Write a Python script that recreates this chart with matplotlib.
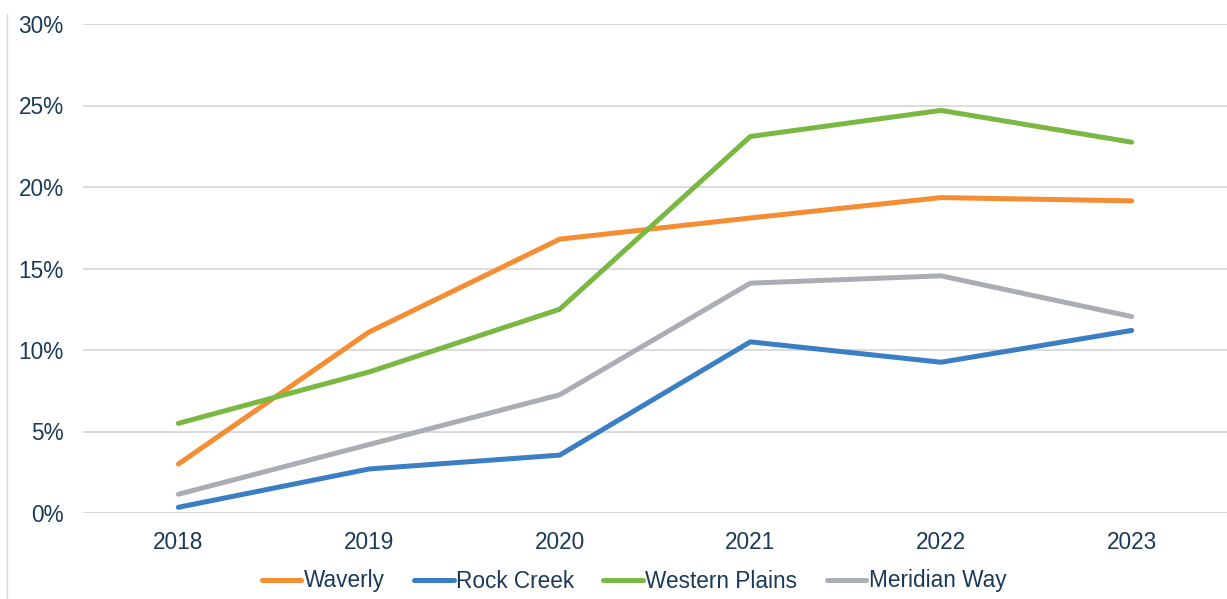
import matplotlib
matplotlib.use("Agg")
import matplotlib.pyplot as plt
from matplotlib.lines import Line2D

years = ["2018", "2019", "2020", "2021", "2022", "2023"]
waverly = [3.0, 11.1, 16.8, 18.1, 19.35, 19.15]
rock_creek = [0.35, 2.7, 3.55, 10.5, 9.25, 11.2]
western_plains = [5.5, 8.65, 12.5, 23.1, 24.7, 22.75]
meridian_way = [1.15, 4.2, 7.25, 14.1, 14.55, 12.05]
y_ticks = [0, 5, 10, 15, 20, 25, 30]

series = [
    ("Waverly", waverly, "#F58D32"),
    ("Rock Creek", rock_creek, "#3A7EC4"),
    ("Western Plains", western_plains, "#7BB843"),
    ("Meridian Way", meridian_way, "#ABADB4"),
]

txt = "#1B3A5A"
plt.rcParams['font.family'] = ['Liberation Sans', 'DejaVu Sans']

fig = plt.figure(figsize=(12.27, 5.99), dpi=100)
ax = fig.add_axes([83/1227, 1-513/599, 1-83/1227, (513-24)/599])

x = list(range(len(years)))
for name, vals, col in series:
    ax.plot(x, vals, color=col, lw=3.6, solid_capstyle='round', solid_joinstyle='round', label=name)

ax.set_xlim(-0.5, len(years)-0.5)
ax.set_ylim(0, 30)
ax.set_yticks(y_ticks)
ax.set_yticklabels([f"{v}%" for v in y_ticks])
ax.set_xticks(x)
ax.set_xticklabels(years)
ax.grid(axis='y', color='#D9D9D9', lw=1.3)
ax.set_axisbelow(True)
for s in ax.spines.values():
    s.set_visible(False)
ax.tick_params(axis='both', length=0, labelsize=16.3, colors=txt)
ax.tick_params(axis='y', pad=14)
ax.tick_params(axis='x', pad=13)

handles = [Line2D([0], [0], color=c, lw=3.6, solid_capstyle='round') for _, _, c in series]
fig.legend(handles, [n for n, _, _ in series], loc='center', bbox_to_anchor=(634/1227, 1-581/599),
           ncol=4, frameon=False, fontsize=16.3, labelcolor=txt, handlelength=1.75,
           handletextpad=0.1, columnspacing=1.3)

fig.add_artist(Line2D([7/1227, 7/1227], [0, 1-14/599], transform=fig.transFigure, color='#D9D9D9', lw=1))

fig.savefig("out.png", dpi=100)
